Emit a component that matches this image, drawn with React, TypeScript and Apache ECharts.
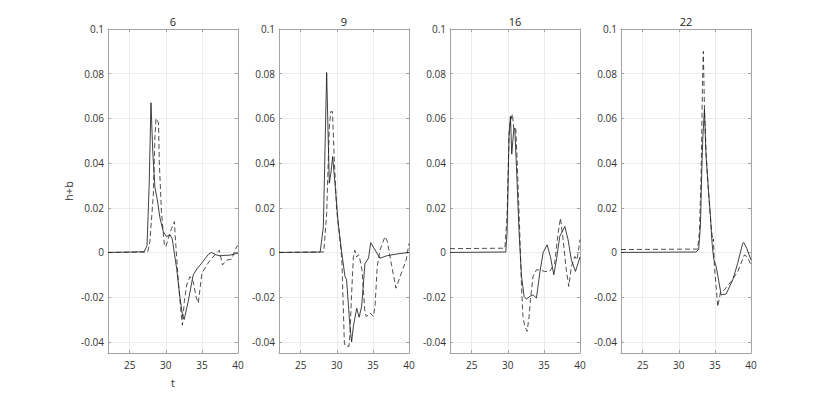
import React, { useEffect, useRef } from "react";
import * as echarts from "echarts";

const titles = ["6", "9", "16", "22"];
const xTicks = [25, 30, 35, 40];
const yTicks = [-0.04, -0.02, 0, 0.02, 0.04, 0.06, 0.08, 0.1];

const t6Solid = [22, 27.0, 27.4, 27.7, 27.95, 28.2, 28.5, 28.8, 29.2, 29.66, 30.1, 30.6, 30.9, 31.5, 31.97, 32.34, 32.55, 33.1, 33.8, 34.4, 34.97, 35.9, 36.35, 36.9, 37.5, 38.2, 38.9, 40];
const v6Solid = [0, 0.0003, 0.003, 0.03, 0.067, 0.045, 0.029, 0.024, 0.0154, 0.0093, 0.0071, 0.0078, 0.006, -0.0071, -0.0204, -0.0287, -0.030, -0.022, -0.010, -0.007, -0.0048, -0.0008, 0, -0.001, -0.0015, -0.0013, -0.0012, -0.0003];
const t6Dashed = [22, 27.5, 27.8, 28.27, 28.5, 28.65, 29.0, 29.1, 29.4, 29.8, 30.0, 30.35, 30.8, 31.2, 31.3, 31.74, 32.06, 32.3, 32.57, 32.9, 33.35, 33.8, 34.2, 34.5, 35.0, 35.67, 36.3, 36.9, 37.4, 37.85, 38.4, 39.1, 39.8, 40];
const v6Dashed = [0, 0.0002, 0.0048, 0.0257, 0.052, 0.060, 0.058, 0.0406, 0.0183, 0.0034, 0.0025, 0.0063, 0.0108, 0.0138, 0.0075, -0.013, -0.025, -0.0325, -0.022, -0.0145, -0.0108, -0.013, -0.020, -0.0227, -0.0094, -0.0056, -0.0028, -0.0008, 0.001, -0.0056, -0.0035, -0.003, 0.0026, 0.003];

const t9Solid = [22, 27.7, 28.14, 28.6, 28.83, 28.97, 29.2, 29.43, 29.75, 30.2, 30.68, 31.14, 31.35, 31.83, 32.06, 32.3, 32.76, 33.1, 33.45, 33.9, 34.4, 34.7, 35.3, 35.98, 36.9, 38.3, 40];
const v9Solid = [0, 0.0002, 0.0115, 0.0805, 0.0489, 0.031, 0.036, 0.0429, 0.031, 0.013, 0, -0.0108, -0.012, -0.0332, -0.040, -0.033, -0.025, -0.029, -0.024, -0.005, -0.0025, 0.0044, 0.0011, -0.0026, -0.0015, -0.0007, 0];
const t9Dashed = [22, 28.2, 28.6, 28.97, 29.16, 29.4, 29.66, 29.98, 30.35, 30.7, 31.05, 31.2, 31.7, 31.83, 32.06, 32.3, 32.5, 32.76, 33.0, 33.2, 33.5, 33.9, 34.1, 34.6, 35.06, 35.3, 35.6, 35.98, 36.68, 37.0, 37.6, 38.2, 38.75, 39.6, 40];
const v9Dashed = [0, 0.0002, 0.0175, 0.0563, 0.063, 0.063, 0.0414, 0.019, 0.0086, -0.003, -0.0406, -0.042, -0.042, -0.036, -0.018, -0.0019, 0.001, -0.002, -0.001, -0.003, -0.008, -0.027, -0.0287, -0.027, -0.0287, -0.024, -0.0063, 0.0011, 0.0071, 0.0049, -0.006, -0.016, -0.011, -0.0034, 0.004];

const t16Solid = [22, 29.72, 29.9, 30.18, 30.37, 30.55, 30.83, 30.97, 31.2, 31.57, 31.9, 32.26, 32.58, 33.05, 33.5, 33.97, 34.43, 34.9, 35.45, 35.9, 36.37, 36.74, 37.2, 37.9, 38.35, 38.8, 39.37, 39.74, 40];
const v16Solid = [0, 0.0002, 0.0087, 0.053, 0.061, 0.044, 0.055, 0.0556, 0.0385, 0.0087, -0.0107, -0.0197, -0.0209, -0.0197, -0.019, -0.0204, -0.0092, 0, 0.0034, -0.0018, -0.01, -0.0033, 0.0072, 0.0116, 0.0057, -0.0033, -0.0085, -0.0048, -0.002];
const t16Dashed = [22, 29.6, 29.9, 30.18, 30.4, 30.65, 30.83, 31.1, 31.3, 31.66, 31.9, 32.1, 32.35, 32.68, 32.95, 33.14, 33.5, 33.97, 34.43, 35.1, 35.8, 36.5, 36.97, 37.3, 37.66, 38.1, 38.45, 38.8, 39.3, 39.6, 40];
const v16Dashed = [0.0017, 0.0019, 0.016, 0.053, 0.059, 0.062, 0.055, 0.0556, 0.041, 0.0087, -0.015, -0.0286, -0.033, -0.0353, -0.0286, -0.021, -0.0107, -0.0078, -0.0078, -0.0085, -0.0085, -0.0048, 0.0087, 0.0154, 0.0057, -0.0078, -0.0152, -0.0063, -0.0018, -0.0033, 0.0057];

const t22Solid = [22, 32.4, 32.76, 33.0, 33.18, 33.32, 33.55, 33.78, 34.1, 34.38, 34.6, 34.84, 35.18, 35.87, 36.56, 37.47, 38.16, 38.85, 39.0, 39.4, 40];
const v22Solid = [0, 0.0002, 0.0015, 0.012, 0.0358, 0.0507, 0.064, 0.043, 0.0283, 0.0164, 0.0045, -0.003, -0.0063, -0.019, -0.0186, -0.0123, -0.0048, 0.0041, 0.0045, 0.0019, -0.0034];
const t22Dashed = [22, 32.6, 32.86, 33.1, 33.27, 33.4, 33.55, 33.78, 34.15, 34.47, 34.7, 34.8, 34.93, 35.4, 35.77, 36.3, 37.25, 38.16, 39.08, 39.5, 40];
const v22Dashed = [0.0013, 0.0015, 0.009, 0.0358, 0.073, 0.090, 0.0656, 0.0447, 0.0253, 0.012, 0.0052, 0.006, -0.006, -0.0243, -0.018, -0.0168, -0.013, -0.0086, -0.0011, -0.002, -0.0056];

const panels = [
  { ts: t6Solid, vs: v6Solid, td: t6Dashed, vd: v6Dashed },
  { ts: t9Solid, vs: v9Solid, td: t9Dashed, vd: v9Dashed },
  { ts: t16Solid, vs: v16Solid, td: t16Dashed, vd: v16Dashed },
  { ts: t22Solid, vs: v22Solid, td: t22Dashed, vd: v22Dashed },
];

const zip = (a: number[], b: number[]) => a.map((x, i) => [x, b[i]]);

const FONT = "'Open Sans', 'DejaVu Sans', sans-serif";
const BOX = "#a3a3a3";
const GRIDLINE = "#ececec";
const TEXT = "#333333";

export default function App() {
  const ref = useRef<HTMLDivElement>(null);
  useEffect(() => {
    if (!ref.current) return;
    const chart = echarts.init(ref.current, undefined, { renderer: "svg" });
    const lefts = [108, 279, 450, 621];
    const W = 130;
    const top = 29;
    const H = 324;
    const grids = lefts.map((l) => ({ left: l, top, width: W, height: H, show: false, containLabel: false }));
    const xAxes: any[] = [];
    const yAxes: any[] = [];
    const fmt = (v: number) => String(Math.round(v * 1000) / 1000);
    lefts.forEach((_, i) => {
      xAxes.push({
        type: "value", gridIndex: i, min: 22, max: 40, position: "bottom",
        axisLine: { show: true, onZero: false, lineStyle: { color: BOX, width: 1 } },
        axisTick: { show: true, inside: true, length: 3, customValues: xTicks, lineStyle: { color: BOX } },
        axisLabel: { show: true, customValues: xTicks, color: TEXT, fontFamily: FONT, fontSize: 10, margin: 7, formatter: fmt },
        splitLine: { show: true, lineStyle: { color: GRIDLINE, width: 1 } },
        name: i === 0 ? "t" : "", nameLocation: "middle", nameGap: 24,
        nameTextStyle: { color: TEXT, fontFamily: FONT, fontSize: 11 },
      });
      xAxes.push({
        type: "value", gridIndex: i, min: 22, max: 40, position: "top",
        axisLine: { show: true, onZero: false, lineStyle: { color: BOX, width: 1 } },
        axisTick: { show: true, inside: true, length: 3, customValues: xTicks, lineStyle: { color: BOX } },
        axisLabel: { show: false },
        splitLine: { show: false },
      });
      yAxes.push({
        type: "value", gridIndex: i, min: -0.045, max: 0.1, position: "left",
        axisLine: { show: true, onZero: false, lineStyle: { color: BOX, width: 1 } },
        axisTick: { show: true, inside: true, length: 3, customValues: yTicks, lineStyle: { color: BOX } },
        axisLabel: { show: true, customValues: yTicks, color: TEXT, fontFamily: FONT, fontSize: 10, margin: 4, formatter: fmt },
        splitLine: { show: true, lineStyle: { color: GRIDLINE, width: 1 } },
        name: i === 0 ? "h+b" : "", nameLocation: "middle", nameGap: 34, nameRotate: 90,
        nameTextStyle: { color: TEXT, fontFamily: FONT, fontSize: 11 },
      });
      yAxes.push({
        type: "value", gridIndex: i, min: -0.045, max: 0.1, position: "right",
        axisLine: { show: true, onZero: false, lineStyle: { color: BOX, width: 1 } },
        axisTick: { show: true, inside: true, length: 3, customValues: yTicks, lineStyle: { color: BOX } },
        axisLabel: { show: false },
        splitLine: { show: false },
      });
    });
    const series: any[] = [];
    panels.forEach((p, i) => {
      series.push({
        type: "line", xAxisIndex: i * 2, yAxisIndex: i * 2, data: zip(p.ts, p.vs),
        showSymbol: false, symbol: "none", smooth: false,
        lineStyle: { color: "#111111", width: 0.8, type: "solid" }, z: 3,
      });
      series.push({
        type: "line", xAxisIndex: i * 2, yAxisIndex: i * 2, data: zip(p.td, p.vd),
        showSymbol: false, symbol: "none", smooth: false,
        lineStyle: { color: "#222222", width: 0.8, type: [5, 3] }, z: 3,
      });
    });
    const graphics = titles.map((t, i) => ({
      type: "text", x: lefts[i] + W / 2, y: 21,
      style: { text: t, fill: "#222222", font: `11px ${FONT}`, align: "center", verticalAlign: "middle" },
    }));
    chart.setOption({
      animation: false,
      backgroundColor: "#ffffff",
      grid: grids,
      xAxis: xAxes,
      yAxis: yAxes,
      series,
      graphic: graphics,
    });
    return () => chart.dispose();
  }, []);
  return <div ref={ref} style={{ position: "fixed", left: 0, top: 0, width: 830, height: 397, background: "#fff" }} />;
}
